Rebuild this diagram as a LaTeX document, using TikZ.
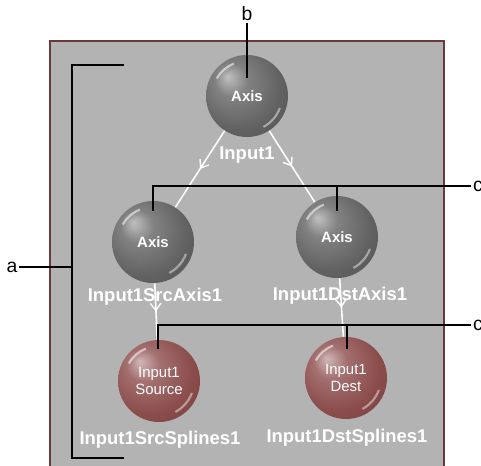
\documentclass[tikz,border=0pt]{standalone}
\usepackage{fontspec}
\setmainfont{Liberation Sans}
\usetikzlibrary{arrows.meta,decorations.markings,positioning}

\definecolor{panelgray}{HTML}{B3B3B3}
\definecolor{panelrim}{HTML}{6A3A3A}
\definecolor{axisgray}{HTML}{626262}
\definecolor{splinered}{HTML}{8C4C4C}

\pgfdeclareradialshading{axisshade}{\pgfpoint{-12bp}{12bp}}{%
  color(0bp)=(axisgray!40!white); color(10bp)=(axisgray!80!white);
  color(26bp)=(axisgray); color(42bp)=(axisgray!80!black);
  color(50bp)=(axisgray!60!black)}
\pgfdeclareradialshading{splineshade}{\pgfpoint{-12bp}{12bp}}{%
  color(0bp)=(splinered!40!white); color(10bp)=(splinered!80!white);
  color(26bp)=(splinered); color(42bp)=(splinered!80!black);
  color(50bp)=(splinered!60!black)}

\tikzset{
  ball/.style={
    circle,
    minimum size=1.64cm,
    inner sep=0pt,
    align=center,
    text=white,
    path picture={
      \draw[white, opacity=.55, line width=1.2pt]
        ([shift={(150:0.7cm)}]path picture bounding box.center)
        arc[start angle=150, end angle=112, radius=0.7cm];
      \draw[white, opacity=.45, line width=1.2pt]
        ([shift={(-20:0.7cm)}]path picture bounding box.center)
        arc[start angle=-20, end angle=-62, radius=0.7cm];
    }
  },
  axisball/.style={ball, shading=axisshade, font=\fontsize{8.5}{10}\bfseries},
  splineball/.style={ball, shading=splineshade, font=\fontsize{8.5}{10}\selectfont},
  tag/.style={text=white, inner sep=1pt, font=\fontsize{10.5}{12}\bfseries},
  letter/.style={inner sep=1pt, font=\fontsize{11}{13}\selectfont},
  callout/.style={black, line width=1.1pt},
  flow/.style={
    white,
    line width=0.9pt,
    postaction={decorate},
    decoration={markings,
      mark=at position .5 with {\arrow{Straight Barb[length=4pt, width=6pt, line width=0.8pt]}}}
  }
}

\begin{document}
\begin{tikzpicture}[x=0.02cm, y=-0.02cm]

\useasboundingbox (0,0) rectangle (481,466);

% panel
\fill[panelgray] (50,41) rectangle (444,466);
\draw[panelrim, line width=0.6pt] (50,466) -- (50,41) -- (444,41) -- (444,466);

% spheres
\node[axisball] (axis) at (247,96) {Axis};
\node[axisball] (srcaxis) at (153,242) {Axis};
\node[axisball] (dstaxis) at (337,237) {Axis};
\node[splineball] (srcspl) at (159,381) {Input1\\Source};
\node[splineball] (dstspl) at (346,378) {Input1\\Dest};

% names
\node[tag] (axislbl) at (247,155) {Input1};
\node[tag] (srcaxislbl) at (155,297) {Input1SrcAxis1};
\node[tag] (dstaxislbl) at (340,296) {Input1DstAxis1};
\node[tag] (srcspllbl) at (160,440) {Input1SrcSplines1};
\node[tag] (dstspllbl) at (347,438) {Input1DstSplines1};

% connections
\draw[flow] (axis) -- (srcaxis);
\draw[flow] (axis) -- (dstaxis);
\draw[flow] (srcaxis) -- (srcspl);
\draw[flow] (dstaxis) -- (dstspl);

% callouts
\node[letter] (alab) at (12,267) {a};
\node[letter] (blab) at (247,14) {b};
\node[letter, anchor=west] (clab) at (471,186) {c};
\node[letter, anchor=west] (dlab) at (471,325) {c};

\coordinate (abar) at (72,267);
\coordinate (atop) at (124,65);
\coordinate (abot) at (124,458);
\coordinate (bend) at (247,78);
\coordinate (cleft) at (153,186);
\coordinate (cmid) at (337,186);
\coordinate (dleft) at (158,325);
\coordinate (dmid) at (347,325);

\draw[callout] (atop) -- (72,65) -- (72,458) -- (abot);
\draw[callout] (alab) -- (abar);
\draw[callout] (blab) -- (bend);
\draw[callout] (clab.west) -- (cleft) -- ++(0,25);
\draw[callout] (cmid) -- ++(0,25);
\draw[callout] (dlab.west) -- (dleft) -- ++(0,24);
\draw[callout] (dmid) -- ++(0,24);

\end{tikzpicture}
\end{document}
